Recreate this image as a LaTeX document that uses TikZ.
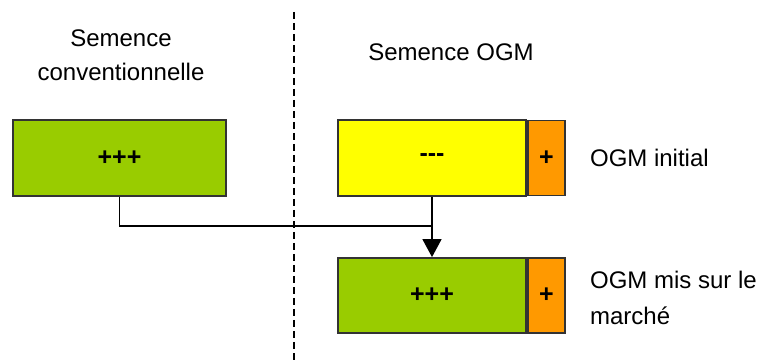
\documentclass[tikz,border=0pt]{standalone}
\usepackage{fontspec}
\setmainfont{Liberation Sans}
\usetikzlibrary{arrows.meta,positioning}

\definecolor{vertOGM}{HTML}{99CC00}
\definecolor{jauneOGM}{HTML}{FFFF00}
\definecolor{orangeOGM}{HTML}{FF9900}
\definecolor{bordOGM}{HTML}{333333}

\tikzset{
    boite/.style={draw=bordOGM, line width=1.8pt, minimum height=76pt,
        inner sep=0pt, font=\fontsize{25}{28}\selectfont\bfseries},
    titre/.style={align=center, font=\fontsize{24}{34}\selectfont},
    legende/.style={anchor=west, align=left, font=\fontsize{24}{36}\selectfont},
    fleche/.style={-{Triangle[width=19pt,length=18pt]}}
}

\begin{document}
\begin{tikzpicture}[x=1pt, y=-1pt, line width=1.5pt]
            \useasboundingbox (0,0) rectangle (763,363);
            % Séparation
            \draw[line width=1.2pt, dash pattern=on 7pt off 4pt] (294,12) -- (294,363);
            % Titres
            \node[titre] (tconv) at (121,55) {Semence\\conventionnelle};
            \node[titre] (togm) at (451,52) {Semence OGM};
            % Boîtes
            \node[boite, fill=vertOGM, minimum width=213pt] (conv) at (119.5,158) {+++};
            \node[boite, fill=jauneOGM, minimum width=188pt] (init) at (432,158) {-{}-{}-};
            \node[boite, fill=vertOGM, minimum width=188pt, minimum height=75pt] (final) at (432,295.5) {+++};
            \foreach \nom/\boite in {plusinit/init, plusfinal/final}{
                \node[boite, fill=orangeOGM, minimum width=37pt, minimum height=75pt,
                    anchor=west] (\nom) at (\boite.east) {+};
            }
            % Légendes
            \node[legende] (linit) at (586,158) {OGM initial};
            \node[legende] (lfinal) at (586,298) {OGM mis sur le\\marché};
            % Liaisons
            \coordinate (jonction) at (432,226);
            \draw (conv.south) |- (jonction);
            \draw[fleche] (init.south) -- (final.north);
        \end{tikzpicture}
\end{document}
